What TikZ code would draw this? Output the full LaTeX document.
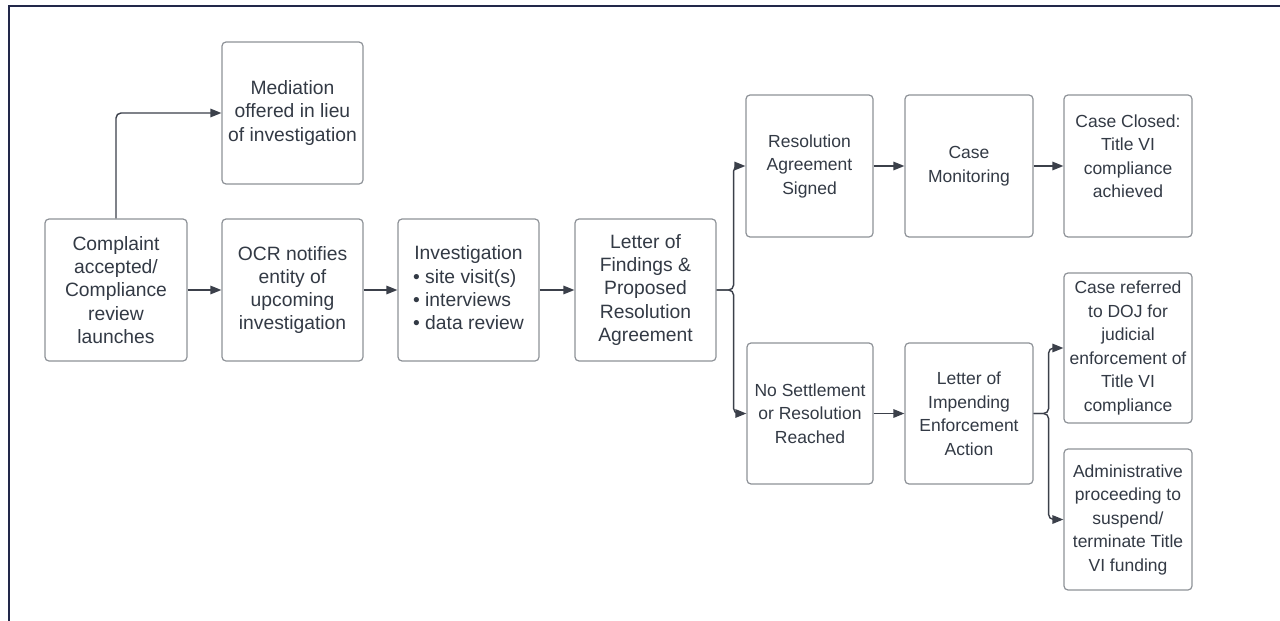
\documentclass[tikz,border=0pt]{standalone}
\usepackage{fontspec}
\setmainfont{Liberation Sans}
\usetikzlibrary{arrows.meta}
\definecolor{txt}{HTML}{333A45}
\definecolor{bord}{HTML}{8E9298}
\definecolor{lnk}{HTML}{3B404A}
\definecolor{frm}{HTML}{22284A}
\begin{document}
\begin{tikzpicture}[x=1pt,y=-1pt,
  box/.style={draw=bord, line width=1.2pt, rounded corners=4pt, fill=white, text=txt, align=center, inner sep=0pt},
  big/.style={box, font=\fontsize{19.3}{23.3}\selectfont, minimum width=141pt, minimum height=142pt},
  small/.style={box, font=\fontsize{17.5}{23.5}\selectfont, minimum width=127pt, minimum height=142pt},
  arr/.style={draw=lnk, line width=1.4pt, -{Triangle[length=11pt,width=8.5pt]}, rounded corners=5pt}]
\useasboundingbox (0,0) rectangle (1280,621);
\fill[white] (0,0) rectangle (1280,621);
% frame
\draw[frm, line width=2pt] (8.5,622) -- (8.5,6) -- (1281,6);
% nodes
\node[big, minimum width=142pt] (comp) at (116,290) {Complaint\\accepted/\\Compliance\\review\\launches};
\node[big] (med) at (292.5,113) {Mediation\\offered in lieu\\of investigation};
\node[big] (ocr) at (292.5,290) {OCR notifies\\entity of\\upcoming\\investigation};
\node[big, align=left] (inv) at (468.5,290) {\begin{tabular}{@{}l@{}}\multicolumn{1}{@{}c@{}}{Investigation}\\• site visit(s)\\• interviews\\• data review\end{tabular}};
\node[big] (lof) at (645.5,290) {Letter of\\Findings \&\\Proposed\\Resolution\\Agreement};
\node[small] (ras) at (809.5,166) {Resolution\\Agreement\\Signed};
\node[small, minimum width=128pt] (cm) at (969,166) {Case\\Monitoring};
\node[small, minimum width=128pt, text depth=23pt] (cc) at (1128,166) {\begin{tabular}[b]{@{}c@{}}Case Closed:\\Title VI\\compliance\\achieved\end{tabular}};
\node[small, minimum width=126pt, minimum height=141pt] (ns) at (810,413.5) {No Settlement\\or Resolution\\Reached};
\node[small, minimum width=128pt, minimum height=141pt] (lie) at (969,413.5) {Letter of\\Impending\\Enforcement\\Action};
\node[small, minimum width=128pt, minimum height=150pt] (doj) at (1128,348) {Case referred\\to DOJ for\\judicial\\enforcement of\\Title VI\\compliance};
\node[small, minimum width=128pt, minimum height=141pt] (adm) at (1128,519.5) {Administrative\\proceeding to\\suspend/\\terminate Title\\VI funding};
% connectors
\draw[arr] (comp.north) |- (med.west);
\draw[arr] (comp) -- (ocr);
\draw[arr] (ocr) -- (inv);
\draw[arr] (inv) -- (lof);
\draw[arr] (lof.east) -- ++(17,0) |- (ras.west);
\draw[arr] (lof.east) -- ++(17,0) |- (ns.west);
\draw[arr] (ras) -- (cm);
\draw[arr] (cm) -- (cc);
\draw[arr] (ns) -- (lie);
\draw[arr] (lie.east) -- ++(15,0) |- (doj.west);
\draw[arr] (lie.east) -- ++(15,0) |- (adm.west);
\end{tikzpicture}
\end{document}
